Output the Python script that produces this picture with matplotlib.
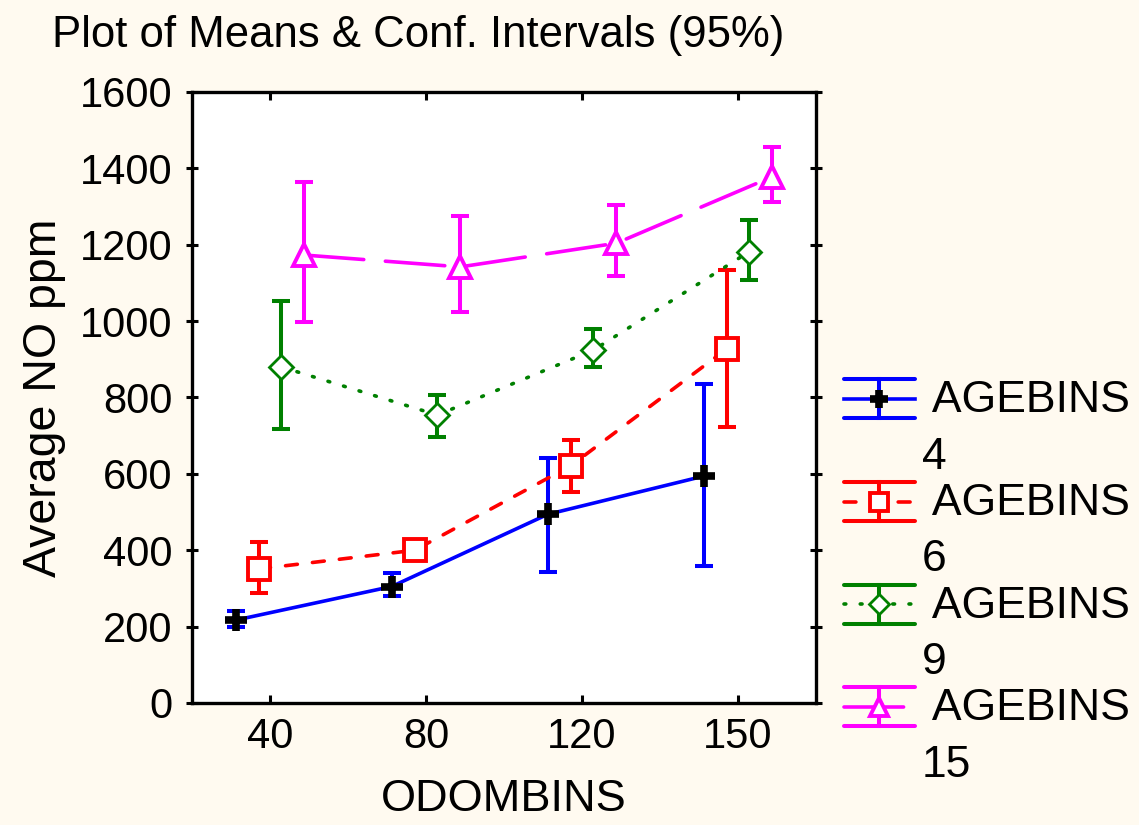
import matplotlib
matplotlib.use("Agg")
import matplotlib.pyplot as plt
from matplotlib.lines import Line2D
from matplotlib.legend_handler import HandlerBase
import numpy as np

plt.rcParams['font.family'] = ['Liberation Sans', 'DejaVu Sans']

categories = ["40", "80", "120", "150"]
series_names = [" AGEBINS\n4", " AGEBINS\n6", " AGEBINS\n9", " AGEBINS\n15"]

mean_4 = [217, 305, 494, 594]
low_4 = [199, 280, 343, 359]
high_4 = [241, 340, 641, 835]

mean_6 = [351, 400, 621, 927]
low_6 = [287, 388, 553, 723]
high_6 = [422, 412, 689, 1134]

mean_9 = [880, 754, 924, 1182]
low_9 = [717, 697, 880, 1108]
high_9 = [1053, 806, 979, 1266]

mean_15 = [1173, 1142, 1204, 1378]
low_15 = [998, 1025, 1118, 1313]
high_15 = [1365, 1275, 1304, 1457]

means = [mean_4, mean_6, mean_9, mean_15]
lows = [low_4, low_6, low_9, low_15]
highs = [high_4, high_6, high_9, high_15]

colors = ["#0000FF", "#FF0000", "#008000", "#FF00FF"]
offsets = [-0.22, -0.073, 0.073, 0.22]
LW = 2.6
ELW = 2.9
styles = [
    dict(ls="-", marker="+", mfc="black", mec="black", ms=16, mew=5.5),
    dict(ls=(0, (3.3, 4.2)), marker="s", mfc="white", mec="#FF0000", ms=15.5, mew=2.8),
    dict(ls=(0, (0.5, 4.0)), marker="D", mfc="white", mec="#008000", ms=12, mew=2.0),
    dict(ls=(0, (16.5, 6)), marker="^", mfc="white", mec="#FF00FF", ms=16, mew=2.8),
]

BG = "#FFFAF0"
fig = plt.figure(figsize=(11.39, 8.25), dpi=100, facecolor=BG)
ax = fig.add_axes([0.1686, 0.1479, 0.5478, 0.7406])
ax.set_facecolor("white")

x = np.arange(len(categories))
for i in range(4):
    xs = x + offsets[i]
    m = np.array(means[i]); lo = np.array(lows[i]); hi = np.array(highs[i])
    st = styles[i]
    ax.errorbar(xs, m, yerr=[m - lo, hi - m], fmt="none", ecolor=colors[i],
                elinewidth=ELW, capsize=6.5, capthick=ELW, zorder=2)
    ax.plot(xs, m, color=colors[i], lw=LW, ls=st["ls"],
            dash_capstyle="round", zorder=3)
    ax.plot(xs, m, ls="none", marker=st["marker"], mfc=st["mfc"], mec=st["mec"],
            ms=st["ms"], mew=st["mew"], zorder=4)

ax.set_xlim(-0.5, 3.5)
ax.set_ylim(0, 1600)
ax.set_xticks(x)
ax.set_xticklabels(categories)
ax.set_yticks(np.arange(0, 1601, 200))
for s in ax.spines.values():
    s.set_linewidth(2.4)
ax.tick_params(axis="both", labelsize=30, width=2.2, length=6, pad=10, direction="in",
               top=True, right=True)
ax.tick_params(axis="y", direction="inout", length=8)
ax.set_xlabel("ODOMBINS", fontsize=32.5, labelpad=16)
ax.set_ylabel("Average NO ppm", fontsize=33.5, labelpad=10)

fig.text(0.046, 0.957, "Plot of Means & Conf. Intervals (95%)", fontsize=31.5,
         ha="left", va="center")

LEG_FS = 32


class EBHandler(HandlerBase):
    def __init__(self, idx):
        super().__init__()
        self.idx = idx

    def create_artists(self, legend, orig_handle, xdescent, ydescent, width, height,
                       fontsize, trans):
        st = styles[self.idx]
        c = colors[self.idx]
        x0 = -xdescent
        x1 = x0 + width
        xc = (x0 + x1) / 2
        ym = -ydescent + height / 2 + 22.0
        d = 14.0
        arts = [
            Line2D([x0, x1], [ym + d, ym + d], color=c, lw=ELW, solid_capstyle="round"),
            Line2D([x0, x1], [ym - d, ym - d], color=c, lw=ELW, solid_capstyle="round"),
            Line2D([xc, xc], [ym - d, ym + d], color=c, lw=ELW),
            Line2D([x0, x1], [ym, ym], color=c, lw=LW, ls=st["ls"], dash_capstyle="round"),
            Line2D([xc], [ym], ls="none", marker=st["marker"], mfc=st["mfc"], mec=st["mec"],
                   ms=st["ms"] * 0.85, mew=st["mew"]),
        ]
        for a in arts:
            a.set_transform(trans)
        return arts


handles = [Line2D([], [], color=c) for c in colors]
leg = fig.legend(handles, series_names, loc="upper left", bbox_to_anchor=(0.7218, 0.566),
                 frameon=False, fontsize=LEG_FS, handlelength=1.58, handletextpad=0.16,
                 labelspacing=0.12, borderpad=0,
                 handler_map={h: EBHandler(i) for i, h in enumerate(handles)})
for t in leg.get_texts():
    t.set_linespacing(1.48)

fig.savefig("out.png", dpi=100, facecolor=BG)
